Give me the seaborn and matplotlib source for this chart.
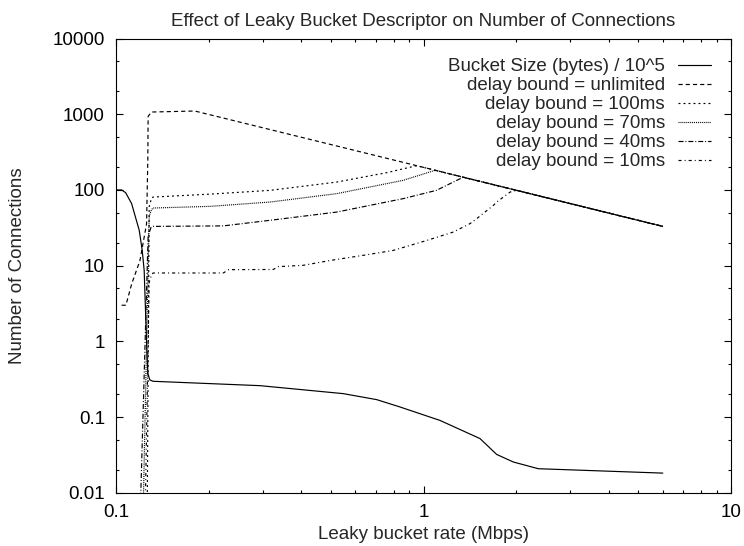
import matplotlib
matplotlib.use("Agg")
import matplotlib.pyplot as plt
from matplotlib.ticker import LogLocator, FixedLocator, FixedFormatter, NullFormatter
import seaborn as sns

# Bucket size (bytes / 10^5) against leaky bucket rate (Mbps)
rate_bucket = [0.1007, 0.1043, 0.1075, 0.1124, 0.1190, 0.1217, 0.1235, 0.1241,
               0.1257, 0.1269, 0.1288, 0.1320, 0.2942, 0.5486, 0.7045, 0.8385,
               1.131, 1.527, 1.730, 1.960, 2.363, 6.0]
bucket_size = [100, 100, 92, 66, 29.3, 15.9, 8.6, 4.7,
               1.0, 0.38, 0.31, 0.297, 0.26, 0.204, 0.17, 0.136,
               0.0904, 0.052, 0.0321, 0.0255, 0.0208, 0.0182]

# Number of connections, unlimited delay bound
rate_unlimited = [0.1043, 0.1077, 0.1124, 0.1196, 0.1257, 0.1269, 0.1272,
                  0.1305, 0.1804, 1.024, 2.22, 6.0]
conn_unlimited = [3.0, 3.0, 5.7, 11.6, 35.5, 246, 938,
                  1069, 1102, 194, 89.3, 33]

# delay bound = 100ms
rate_100 = [0.1260, 0.1282, 0.1305, 0.1320, 0.2022, 0.3168, 0.522, 0.7589,
            0.950, 2.22, 6.0]
conn_100 = [0.001, 60, 78, 80.5, 88, 98.7, 127, 169,
            209, 89.3, 33]

# delay bound = 70ms
rate_70 = [0.1215, 0.1282, 0.1305, 0.1320, 0.2022, 0.3168, 0.522, 0.8595,
           1.09, 2.22, 6.0]
conn_70 = [0.001, 45, 55, 57.7, 60.7, 69.2, 89.3, 134,
           181.5, 89.3, 33]

# delay bound = 40ms
rate_40 = [0.1185, 0.1272, 0.1300, 0.1320, 0.2233, 0.3168, 0.522, 0.8595,
           1.102, 1.345, 2.22, 6.0]
conn_40 = [0.001, 25, 32, 33, 33.5, 39.7, 51, 76.8,
           98.8, 147, 89.3, 33]

# delay bound = 10ms
rate_10 = [0.1235, 0.1282, 0.1305, 0.1320, 0.2233, 0.2325, 0.3245, 0.337,
           0.4062, 0.4966, 0.6375, 0.797, 1.024, 1.251, 1.417, 1.49,
           1.688, 1.730, 1.913, 2.01, 2.22, 6.0]
conn_10 = [0.001, 6, 7.6, 8.0, 8.0, 8.85, 8.9, 9.7,
           10.1, 11.7, 13.7, 15.9, 21.5, 27.8, 35.9, 41.8,
           62.6, 69.2, 93.8, 98.8, 89.3, 33]

x_ticks = [0.1, 1, 10]
x_tick_labels = ["0.1", "1", "10"]
y_ticks = [0.01, 0.1, 1, 10, 100, 1000, 10000]
y_tick_labels = ["0.01", "0.1", "1", "10", "100", "1000", "10000"]

sns.set_style("ticks")
plt.rcParams["font.family"] = ["Liberation Sans", "DejaVu Sans"]
plt.rcParams["lines.scale_dashes"] = False
plt.rcParams["axes.linewidth"] = 0.8
FS = 13.5

fig = plt.figure(figsize=(7.44, 5.46), dpi=100)
ax = fig.add_axes([116 / 744, 1 - 492.8 / 546, (731 - 116) / 744, (492.8 - 38.5) / 546])
ax.set_xscale("log")
ax.set_yscale("log")

series = [
    ("Bucket Size (bytes) / 10^5", rate_bucket, bucket_size, "-"),
    ("delay bound = unlimited", rate_unlimited, conn_unlimited, (0, (3.0, 2.2))),
    ("delay bound = 100ms", rate_100, conn_100, (0, (1.4, 2.2))),
    ("delay bound = 70ms", rate_70, conn_70, (0, (0.7, 0.7))),
    ("delay bound = 40ms", rate_40, conn_40, (0, (3.6, 1.4, 0.7, 1.4))),
    ("delay bound = 10ms", rate_10, conn_10, (0, (2.2, 2.2, 0.7, 2.2))),
]
for label, xs, ys, ls in series:
    sns.lineplot(x=xs, y=ys, ax=ax, estimator=None, sort=False,
                 color="black", linewidth=0.85, linestyle=ls, label=label)

ax.set_xlim(0.1, 10)
ax.set_ylim(0.01, 10000)

ax.xaxis.set_major_locator(FixedLocator(x_ticks))
ax.xaxis.set_major_formatter(FixedFormatter(x_tick_labels))
ax.xaxis.set_minor_locator(LogLocator(base=10, subs=range(2, 10), numticks=20))
ax.xaxis.set_minor_formatter(NullFormatter())
ax.yaxis.set_major_locator(FixedLocator(y_ticks))
ax.yaxis.set_major_formatter(FixedFormatter(y_tick_labels))
ax.yaxis.set_minor_locator(LogLocator(base=10, subs=[2, 5], numticks=20))
ax.yaxis.set_minor_formatter(NullFormatter())

ax.tick_params(which="both", direction="in", top=True, right=True,
               width=0.8, colors="black", labelsize=FS)
ax.tick_params(which="major", length=5, pad=8)
ax.tick_params(which="minor", length=2.5)
for side in ["top", "right", "left", "bottom"]:
    ax.spines[side].set_visible(True)
    ax.spines[side].set_color("black")

ax.set_title("Effect of Leaky Bucket Descriptor on Number of Connections",
             fontsize=FS, pad=9)
ax.set_xlabel("Leaky bucket rate (Mbps)", fontsize=FS, labelpad=4)
ax.set_ylabel("Number of Connections", fontsize=FS, labelpad=19)

ax.legend(loc="upper right", frameon=False, markerfirst=False, fontsize=FS,
          handlelength=1.8, handletextpad=0.68, labelspacing=0.1,
          borderaxespad=0.6, borderpad=0.45)

fig.savefig("out.png", dpi=100)
